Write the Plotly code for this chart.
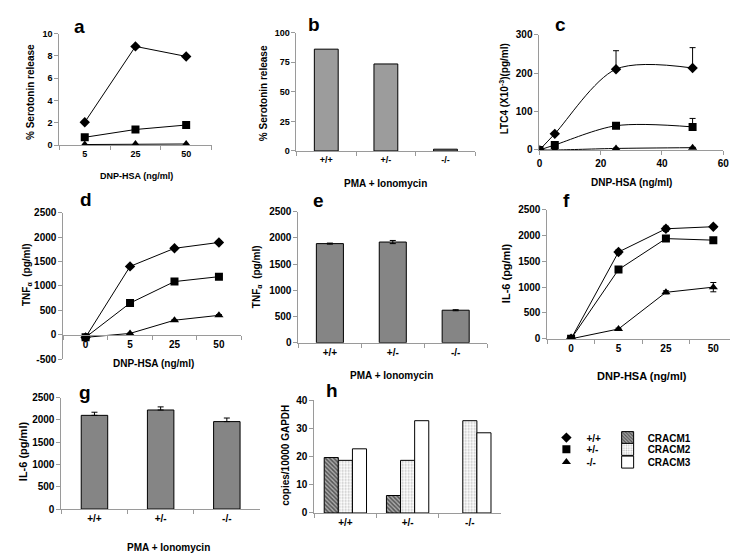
import plotly.graph_objects as go

W, H = 738, 554

# ---------------- data ----------------
genotypes = ["+/+", "+/-", "-/-"]

# a: serotonin release vs DNP-HSA
a_x = ["5", "25", "50"]
a_wt = [2.05, 8.85, 7.95]
a_het = [0.7, 1.4, 1.8]
a_ko = [0.05, 0.1, 0.1]

# b: serotonin release, PMA + ionomycin
b_vals = [86, 73.5, 1.5]

# c: LTC4
c_x = [0, 5, 25, 50]
c_wt = [0, 42, 210, 213]
c_wt_err = [0, 2, 48, 53]
c_het = [0, 13, 63, 60]
c_het_err = [0, 1, 3, 22]
c_ko = [0, 0, 4, 6]
c_ko_err = [0, 0, 1, 1]

# d: TNFa vs DNP-HSA
d_x = ["0", "5", "25", "50"]
d_wt = [-50, 1400, 1770, 1890]
d_wt_err = [0, 15, 30, 30]
d_het = [-50, 650, 1090, 1190]
d_het_err = [0, 10, 15, 15]
d_ko = [-50, 30, 300, 400]
d_ko_err = [0, 5, 10, 15]

# e: TNFa, PMA + ionomycin
e_vals = [1890, 1920, 620]
e_err = [10, 30, 10]

# f: IL-6 vs DNP-HSA
f_x = ["0", "5", "25", "50"]
f_wt = [0, 1680, 2130, 2170]
f_wt_err = [0, 40, 50, 30]
f_het = [0, 1340, 1940, 1910]
f_het_err = [0, 20, 20, 20]
f_ko = [0, 190, 900, 1000]
f_ko_err = [0, 15, 30, 90]

# g: IL-6, PMA + ionomycin
g_vals = [2100, 2220, 1960]
g_err = [70, 70, 80]

# h: CRACM copies
h_cracm1 = [19.7, 6.2, None]
h_cracm2 = [18.7, 18.7, 32.8]
h_cracm3 = [22.8, 32.8, 28.5]

series_names = ["+/+", "+/-", "-/-"]
cracm_names = ["CRACM1", "CRACM2", "CRACM3"]

# ---------------- helpers ----------------
FONT = "Liberation Sans, Arial, sans-serif"
AX = "#9a9a9a"


def dx(l, r):
    return [l / W, r / W]


def dy(t, b):
    return [1 - b / H, 1 - t / H]


def axis_common(fs):
    return dict(showline=True, linecolor=AX, linewidth=1, ticks="outside",
                ticklen=4, tickcolor=AX, showgrid=False, zeroline=False,
                tickfont=dict(family=FONT, size=fs, color="black", weight="bold"))


fig = go.Figure()
symbols = ["diamond", "square", "triangle-up"]


def add_lines(xs, ys_list, errs, ax, shape="linear", upper_only=False):
    for ys, err, sym in zip(ys_list, errs, symbols):
        kw = {}
        if err is not None:
            if upper_only:
                kw["error_y"] = dict(type="data", array=err, arrayminus=[0] * len(err),
                                     color="black", thickness=1, width=3)
            else:
                kw["error_y"] = dict(type="data", array=err, color="black",
                                     thickness=1, width=3)
        line = dict(color="black", width=1, shape=shape)
        if shape == "spline":
            line["smoothing"] = 0.9
        fig.add_trace(go.Scatter(
            x=xs, y=ys, mode="lines+markers",
            line=line,
            marker=dict(symbol=sym, size=8, color="black"),
            xaxis="x" + ax, yaxis="y" + ax, showlegend=False, **kw))


# a
add_lines(a_x, [a_wt, a_het, a_ko], [None, None, None], "")
# b
fig.add_trace(go.Bar(x=genotypes, y=b_vals, width=0.4, marker=dict(color="#9c9c9c", line=dict(color="black", width=1)),
                     xaxis="x2", yaxis="y2", showlegend=False))
# c
add_lines(c_x, [c_wt, c_het, c_ko], [c_wt_err, c_het_err, c_ko_err], "3", shape="spline", upper_only=True)
# d
add_lines(d_x, [d_wt, d_het, d_ko], [d_wt_err, d_het_err, d_ko_err], "4")
# e
fig.add_trace(go.Bar(x=genotypes, y=e_vals, width=0.43,
                     error_y=dict(type="data", array=e_err, color="black", thickness=1, width=3),
                     marker=dict(color="#858585", line=dict(color="black", width=1)),
                     xaxis="x5", yaxis="y5", showlegend=False))
# f
add_lines(f_x, [f_wt, f_het, f_ko], [f_wt_err, f_het_err, f_ko_err], "6")
# g
fig.add_trace(go.Bar(x=genotypes, y=g_vals, width=0.4,
                     error_y=dict(type="data", array=g_err, arrayminus=[0, 0, 0], color="black", thickness=1, width=3),
                     marker=dict(color="#858585", line=dict(color="black", width=1)),
                     xaxis="x7", yaxis="y7", showlegend=False))

# legend rows (one small legend per row, to match the tight row spacing)
row_y = [433, 445, 458]
legend_ids = ["legend", "legend2", "legend3", "legend4", "legend5", "legend6"]

# h
patterns = [
    dict(shape="\\", fgcolor="black", bgcolor="#aaaaaa", size=3, solidity=0.5, fillmode="overlay"),
    dict(shape=".", fgcolor="#777777", bgcolor="white", size=3, solidity=0.3, fillmode="overlay"),
    dict(shape="", fillmode="overlay"),
]
for i, (name, vals, pat) in enumerate(zip(cracm_names, [h_cracm1, h_cracm2, h_cracm3], patterns)):
    fig.add_trace(go.Bar(x=genotypes, y=vals, name=name,
                         marker=dict(color="white", line=dict(color="black", width=1), pattern=pat),
                         xaxis="x8", yaxis="y8", legend=legend_ids[3 + i], showlegend=True))

# legend entries for genotype symbols
for i, (name, sym) in enumerate(zip(series_names, symbols)):
    fig.add_trace(go.Scatter(x=[None], y=[None], mode="markers", name=name,
                             marker=dict(symbol=sym, size=8, color="black"),
                             xaxis="x", yaxis="y", legend=legend_ids[i], showlegend=True))

# ---------------- axes ----------------
lay = {}
# a
lay["xaxis"] = dict(domain=dx(49, 203), anchor="y", type="category", range=[-0.5, 2.5], tickson="boundaries", **axis_common(9))
lay["yaxis"] = dict(domain=dy(20, 134), anchor="x", range=[0, 10], dtick=2, **axis_common(9))
# b
lay["xaxis2"] = dict(domain=dx(289, 470), anchor="y2", type="category", range=[-0.5, 2.5], tickson="boundaries", **axis_common(9))
lay["yaxis2"] = dict(domain=dy(19, 140), anchor="x2", range=[0, 100], dtick=25, **axis_common(9))
# c
lay["xaxis3"] = dict(domain=dx(535, 721), anchor="y3", range=[0, 60], dtick=20, **axis_common(10))
lay["yaxis3"] = dict(domain=dy(21, 139), anchor="x3", range=[0, 300], dtick=100, **axis_common(10))
# d
lay["xaxis4"] = dict(domain=dx(53, 233), anchor="free", position=1 - 328 / H, type="category", range=[-0.5, 3.5], tickson="boundaries", **axis_common(10))
lay["yaxis4"] = dict(domain=dy(203, 353), anchor="x4", range=[-500, 2500],
                     tickvals=[-500, 0, 500, 1000, 1500, 2000, 2500],
                     ticktext=["-500", "0", "500", "1000", "1500", "2000", "2500"], **axis_common(10))
# e
lay["xaxis5"] = dict(domain=dx(291, 482), anchor="y5", type="category", range=[-0.5, 2.5], tickson="boundaries", **axis_common(10))
lay["yaxis5"] = dict(domain=dy(202, 336), anchor="x5", range=[0, 2500], dtick=500, **axis_common(10))
# f
lay["xaxis6"] = dict(domain=dx(543, 735), anchor="y6", type="category", range=[-0.5, 3.5], tickson="boundaries", **axis_common(10))
lay["yaxis6"] = dict(domain=dy(200, 332), anchor="x6", range=[0, 2500], dtick=500, **axis_common(10))
# g
lay["xaxis7"] = dict(domain=dx(51, 252), anchor="y7", type="category", range=[-0.5, 2.5], tickson="boundaries", **axis_common(10))
lay["yaxis7"] = dict(domain=dy(392, 506), anchor="x7", range=[0, 2500], dtick=500, **axis_common(10))
# h
lay["xaxis8"] = dict(domain=dx(307, 496), anchor="y8", type="category", range=[-0.5, 2.5], tickson="boundaries", **axis_common(10))
lay["yaxis8"] = dict(domain=dy(395, 510), anchor="x8", range=[0, 40], dtick=10, **axis_common(10))

fig.update_layout(**lay)

# ---------------- text annotations ----------------
ann = []


def txt(text, x, y, size, angle=0):
    ann.append(dict(text=text, x=x / W, y=1 - y / H, xref="paper", yref="paper",
                    showarrow=False, textangle=angle, xanchor="center", yanchor="middle",
                    font=dict(family=FONT, size=size, color="black", weight="bold")))


# panel letters
for letter, x, y in [("a", 69, 13), ("b", 307, 11), ("c", 556, 11), ("d", 76, 190),
                     ("e", 311, 191), ("f", 562, 191), ("g", 75, 387), ("h", 325, 385)]:
    txt(letter, x, y, 19)

# y titles
txt("% Serotonin release", 20, 80, 10, -90)
txt("% Serotonin release", 255, 81, 10, -90)
txt("LTC4 (X10<sup>-3</sup>)(pg/ml)", 499, 76, 10, -90)
txt("TNF<sub>α</sub>  (pg/ml)", 16, 266, 10, -90)
txt("TNF<sub>α</sub>  (pg/ml)", 249, 268, 10, -90)
txt("IL-6 (pg/ml)", 501, 265, 11, -90)
txt("IL-6 (pg/ml)", 12, 447, 11, -90)
txt("copies/10000 GAPDH", 278, 451, 10, -90)

# x titles
txt("DNP-HSA (ng/ml)", 127, 166, 9)
txt("PMA + Ionomycin", 379, 173, 10)
txt("DNP-HSA (ng/ml)", 628, 172, 10)
txt("DNP-HSA (ng/ml)", 144, 357, 10)
txt("PMA + Ionomycin", 385, 370, 10)
txt("DNP-HSA (ng/ml)", 639, 370, 11)
txt("PMA + Ionomycin", 159, 545, 10)

leg_font = dict(family=FONT, size=10, color="black", weight="bold")
legends = {}
for i, lid in enumerate(legend_ids):
    col_x = 542 if i < 3 else 604
    legends[lid] = dict(x=col_x / W, y=1 - row_y[i % 3] / H, xanchor="left", yanchor="middle",
                        font=leg_font, bgcolor="rgba(0,0,0,0)", tracegroupgap=0)

fig.update_layout(
    annotations=ann,
    width=W, height=H,
    margin=dict(l=0, r=0, t=0, b=0),
    paper_bgcolor="white", plot_bgcolor="white",
    barmode="group", bargap=0.32, bargroupgap=0,
    **legends,
)

fig.write_html("out.html")
